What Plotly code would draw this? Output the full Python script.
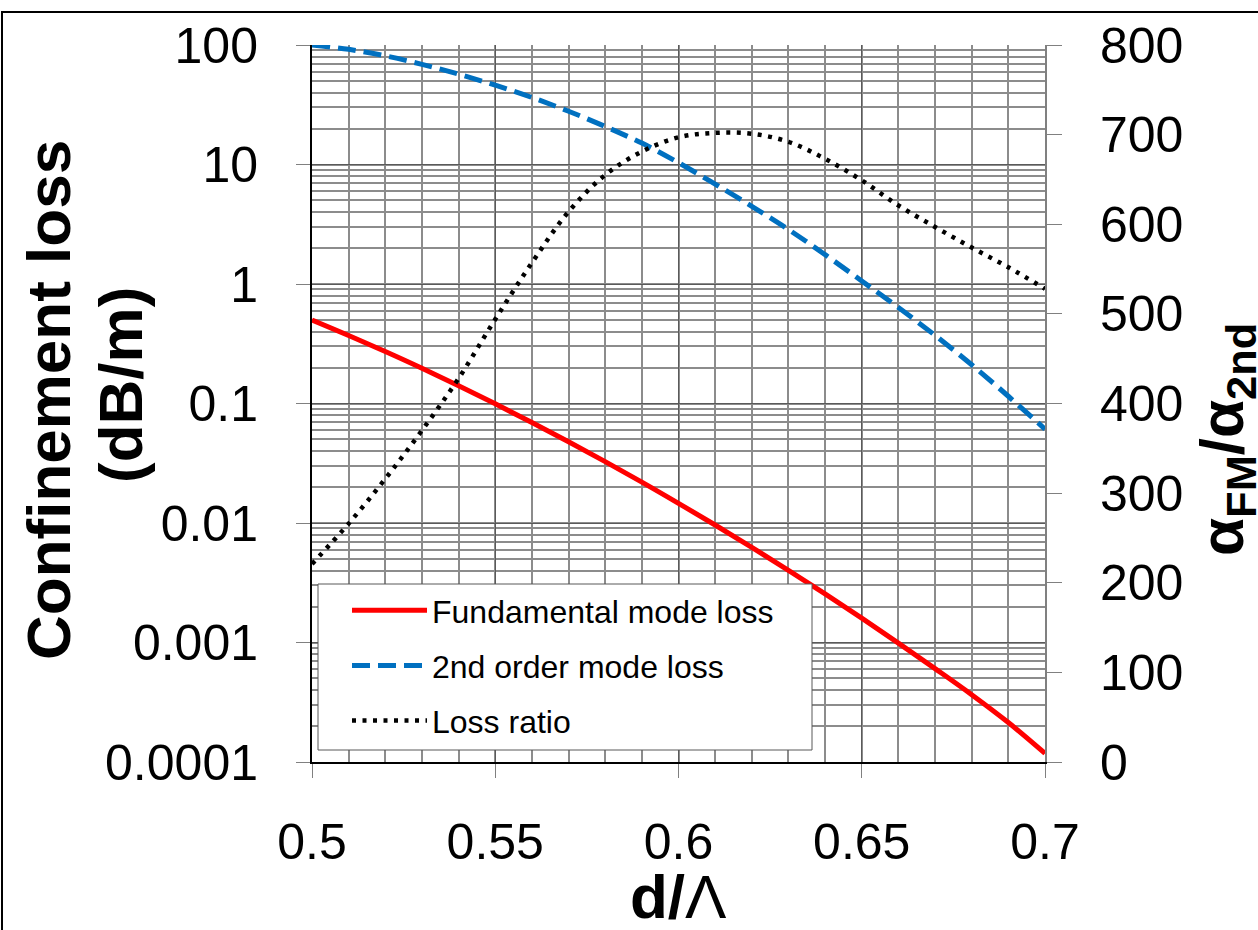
import plotly.graph_objects as go

# ---------------- data ----------------
d_lambda = [0.50, 0.51, 0.52, 0.53, 0.54, 0.55, 0.56, 0.57, 0.58, 0.59, 0.60,
            0.61, 0.62, 0.63, 0.64, 0.65, 0.66, 0.67, 0.68, 0.69, 0.70]

fundamental_loss = [0.50, 0.371, 0.272, 0.197, 0.1406, 0.0993, 0.0693, 0.0478, 0.0326, 0.0220, 0.01462,
                    0.00962, 0.00625, 0.00401, 0.00255, 0.00160, 0.000989, 0.000605, 0.000366, 0.000214, 0.000118]

second_order_loss = [100, 92.0, 81.1, 68.9, 57.0, 46.1, 36.4, 27.9, 20.8, 15.1, 10.35,
                     6.85, 4.47, 2.86, 1.76, 1.06, 0.635, 0.372, 0.211, 0.115, 0.061]

loss_ratio = [221, 266, 316, 370, 428, 494, 557, 614, 655, 681, 697,
              702, 701, 692, 673, 649, 621, 597, 574, 552, 528]

series_names = ["Fundamental mode loss", "2nd order mode loss", "Loss ratio"]

x_tick_vals = [0.5, 0.55, 0.6, 0.65, 0.7]
x_tick_text = ["0.5", "0.55", "0.6", "0.65", "0.7"]
y_tick_vals = [0.0001, 0.001, 0.01, 0.1, 1, 10, 100]
y_tick_text = ["0.0001", "0.001", "0.01", "0.1", "1", "10", "100"]
y2_tick_vals = [0, 100, 200, 300, 400, 500, 600, 700, 800]
y2_tick_text = ["0", "100", "200", "300", "400", "500", "600", "700", "800"]

# ---------------- figure ----------------
FONT = "Arial, Liberation Sans, sans-serif"
W, H = 1258, 930
L, R, T, B = 312, 213, 45, 168
PW, PH = W - L - R, H - T - B


def px_to_paper_x(px):
    return (px - L) / PW


def px_to_paper_y(py):
    return (H - B - py) / PH


fig = go.Figure()

fig.add_trace(go.Scatter(
    x=d_lambda, y=fundamental_loss, name=series_names[0], mode="lines",
    line=dict(color="#FF0000", width=5, shape="spline", smoothing=1.0),
    yaxis="y", legendgroup="a"))

fig.add_trace(go.Scatter(
    x=d_lambda, y=second_order_loss, name=series_names[1], mode="lines",
    line=dict(color="#0070C0", width=5, dash="18px,8px", shape="spline", smoothing=1.0),
    yaxis="y", legendgroup="b"))

fig.add_trace(go.Scatter(
    x=d_lambda, y=loss_ratio, name=series_names[2], mode="lines",
    line=dict(color="#000000", width=4.5, dash="4px,6.5px", shape="spline", smoothing=1.0),
    yaxis="y2", legendgroup="c"))

minor_grid = "#8C8C8C"
major_grid = "#5A5A5A"

fig.update_layout(
    width=W, height=H,
    margin=dict(l=L, r=R, t=T, b=B, pad=0),
    paper_bgcolor="white", plot_bgcolor="white",
    font=dict(family=FONT, color="black"),
    showlegend=True,
    legend=dict(
        x=px_to_paper_x(347), y=px_to_paper_y(583), xanchor="left", yanchor="top",
        bgcolor="rgba(0,0,0,0)", borderwidth=0,
        font=dict(size=32, family=FONT, color="black"),
        itemwidth=75, tracegroupgap=10.5, traceorder="grouped",
    ),
    xaxis=dict(
        range=[0.5, 0.7], tickmode="array", tickvals=x_tick_vals, ticktext=x_tick_text,
        showgrid=True, gridcolor=major_grid, gridwidth=1,
        minor=dict(dtick=0.01, showgrid=True, gridcolor=minor_grid, gridwidth=2, ticks=""),
        showline=True, linecolor="black", linewidth=2,
        ticks="outside", ticklen=14, tickcolor="#808080", tickwidth=1,
        tickfont=dict(size=50, family=FONT), ticklabelstandoff=21,
        zeroline=False, mirror=False,
    ),
    yaxis=dict(
        type="log", range=[-4, 2], tickmode="array", tickvals=y_tick_vals, ticktext=y_tick_text,
        showgrid=True, gridcolor=major_grid, gridwidth=1,
        minor=dict(dtick="D1", showgrid=True, gridcolor=minor_grid, gridwidth=2, ticks=""),
        showline=True, linecolor="black", linewidth=2,
        ticks="outside", ticklen=14, tickcolor="#808080", tickwidth=1,
        tickfont=dict(size=50, family=FONT), ticklabelstandoff=28,
        zeroline=False,
    ),
    yaxis2=dict(
        overlaying="y", side="right", range=[0, 800],
        tickmode="array", tickvals=y2_tick_vals, ticktext=y2_tick_text,
        showgrid=False, zeroline=False,
        showline=True, linecolor="#808080", linewidth=2,
        ticks="outside", ticklen=15, tickcolor="#808080", tickwidth=1,
        tickfont=dict(size=50, family=FONT), ticklabelstandoff=28,
    ),
)

# legend frame (white box with thin grey border)
fig.add_shape(type="rect", xref="paper", yref="paper",
              x0=px_to_paper_x(318), x1=px_to_paper_x(812),
              y0=px_to_paper_y(750), y1=px_to_paper_y(584),
              line=dict(color="#595959", width=1), fillcolor="white", layer="above")

# axis titles as annotations for exact placement
fig.add_annotation(
    text="<b>Confinement loss</b>", textangle=-90,
    xref="paper", yref="paper", x=px_to_paper_x(48), y=px_to_paper_y(400),
    xanchor="center", yanchor="middle", showarrow=False,
    font=dict(size=62, family=FONT, color="black"))
fig.add_annotation(
    text="<b>(dB/m)</b>", textangle=-90,
    xref="paper", yref="paper", x=px_to_paper_x(120), y=px_to_paper_y(385),
    xanchor="center", yanchor="middle", showarrow=False,
    font=dict(size=62, family=FONT, color="black"))

fig.add_annotation(
    text="<b>α<sub>FM</sub>/α<sub>2nd</sub></b>", textangle=-90,
    xref="paper", yref="paper", x=px_to_paper_x(1226), y=px_to_paper_y(440),
    xanchor="center", yanchor="middle", showarrow=False,
    font=dict(size=62, family=FONT, color="black"))

fig.add_annotation(
    text="<b>d/</b>Λ",
    xref="paper", yref="paper", x=px_to_paper_x(678), y=px_to_paper_y(896),
    xanchor="center", yanchor="middle", showarrow=False,
    font=dict(size=62, family=FONT, color="black"))

# outer frame of the original figure (top and left edges visible)
fig.add_shape(type="rect", xref="paper", yref="paper",
              x0=px_to_paper_x(2), x1=3, y0=-3, y1=px_to_paper_y(12),
              line=dict(color="black", width=2), fillcolor="rgba(0,0,0,0)", layer="below")

fig.write_html("out.html")
